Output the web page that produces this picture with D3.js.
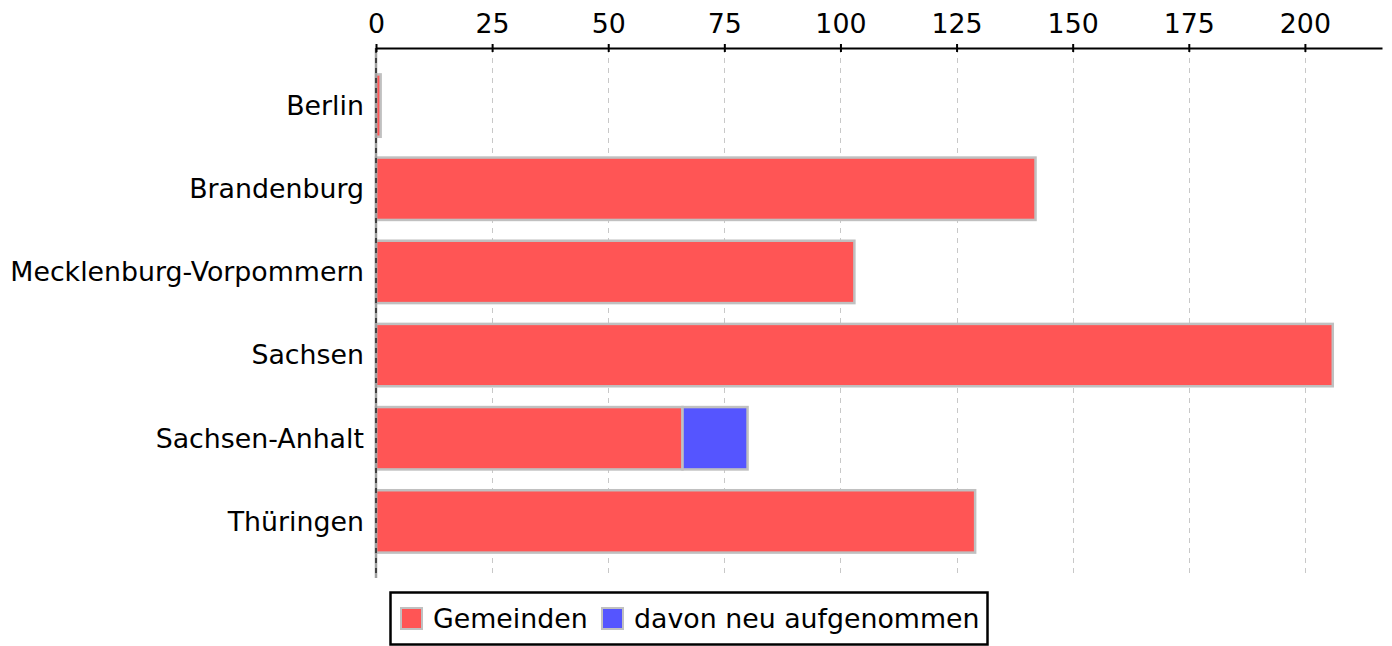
<!DOCTYPE html>
<html>
<head>
<meta charset="utf-8">
<script src="https://cdn.jsdelivr.net/npm/d3@7"></script>
<style>
  body { margin: 0; background: #fff; }
  svg { font-family: "DejaVu Sans", sans-serif; }
</style>
</head>
<body>
<svg id="chart" width="1392" height="646"></svg>
<script>
"use strict";

// data
const laender = ["Berlin", "Brandenburg", "Mecklenburg-Vorpommern", "Sachsen", "Sachsen-Anhalt", "Thüringen"];
const gemeinden = [1, 142, 103, 206, 66, 129];
const neuAufgenommen = [0, 0, 0, 0, 14, 0];
const tickWerte = [0, 25, 50, 75, 100, 125, 150, 175, 200];
const serienNamen = ["Gemeinden", "davon neu aufgenommen"];
const farben = ["#ff5555", "#5555ff"];

const svg = d3.select("#chart");
const plotLeft = 376, plotRight = 1382, plotTop = 48, plotBottom = 578;
const fontSize = "26.8px";

let x = d3.scaleLinear().domain([0, 216.6]).range([plotLeft, plotRight]);
let y = d3.scaleBand().domain(laender).range([64, 563]).paddingInner(0.25).paddingOuter(0.125);

// grid
svg.append("g").selectAll("line")
  .data(tickWerte.filter(d => d > 0))
  .enter().append("line")
    .attr("x1", d => Math.round(x(d)) + 0.5)
    .attr("x2", d => Math.round(x(d)) + 0.5)
    .attr("y1", plotTop)
    .attr("y2", plotBottom)
    .style("stroke", "#c8c8c8")
    .style("stroke-width", 1)
    .style("stroke-dasharray", "5,5");

// stacked segments
let stacked = laender.map((l, i) => ({
  land: l,
  parts: [
    { s: 0, x0: 0, x1: gemeinden[i] },
    { s: 1, x0: gemeinden[i], x1: gemeinden[i] + neuAufgenommen[i] }
  ].filter(p => p.x1 > p.x0)
}));

svg.append("g").selectAll("g")
  .data(stacked)
  .enter().append("g")
  .selectAll("rect")
  .data(d => d.parts.map(p => Object.assign({ land: d.land }, p)))
  .enter().append("rect")
    .attr("x", d => x(d.x0))
    .attr("y", d => y(d.land))
    .attr("width", d => x(d.x1) - x(d.x0))
    .attr("height", y.bandwidth())
    .style("fill", d => farben[d.s])
    .style("stroke", "#c0c0c0")
    .style("stroke-width", 2.5);

// zero line
svg.append("line")
  .attr("x1", plotLeft).attr("x2", plotLeft).attr("y1", plotTop).attr("y2", plotBottom)
  .style("stroke", "#a0a0a0").style("stroke-width", 2.5);
svg.append("line")
  .attr("x1", plotLeft).attr("x2", plotLeft).attr("y1", plotTop).attr("y2", plotBottom)
  .style("stroke", "#222").style("stroke-width", 1.5)
  .style("stroke-dasharray", "5,5");

// top axis
let axis = svg.append("g")
  .attr("transform", `translate(0,${plotTop})`)
  .call(d3.axisTop(x).tickValues(tickWerte).tickSizeOuter(0).tickSizeInner(4).tickPadding(11));
axis.select(".domain").style("stroke", "#000").style("stroke-width", 2);
axis.selectAll(".tick line").attr("y1", -4).attr("y2", 4).style("stroke-width", 2);
axis.selectAll(".tick text")
  .style("font-family", "DejaVu Sans")
  .style("font-size", fontSize)
  .style("fill", "#000");

// category labels
svg.append("g").selectAll("text")
  .data(laender)
  .enter().append("text")
    .attr("x", plotLeft - 12)
    .attr("y", d => y(d) + y.bandwidth() / 2)
    .attr("dy", "0.35em")
    .attr("text-anchor", "end")
    .style("font-size", fontSize)
    .text(d => d);

// legend
let legend = svg.append("g");
legend.append("rect")
  .attr("x", 390.5).attr("y", 592.5).attr("width", 597).attr("height", 52)
  .style("fill", "#fff").style("stroke", "#000").style("stroke-width", 2.5);
let legendX = [401, 602];
serienNamen.forEach((n, i) => {
  legend.append("rect")
    .attr("x", legendX[i]).attr("y", 608).attr("width", 21).attr("height", 21)
    .style("fill", farben[i]).style("stroke", "#c0c0c0").style("stroke-width", 2);
  legend.append("text")
    .attr("x", legendX[i] + 32).attr("y", 618.5)
    .attr("dy", "0.35em")
    .style("font-size", fontSize)
    .text(n);
});
</script>
</body>
</html>
